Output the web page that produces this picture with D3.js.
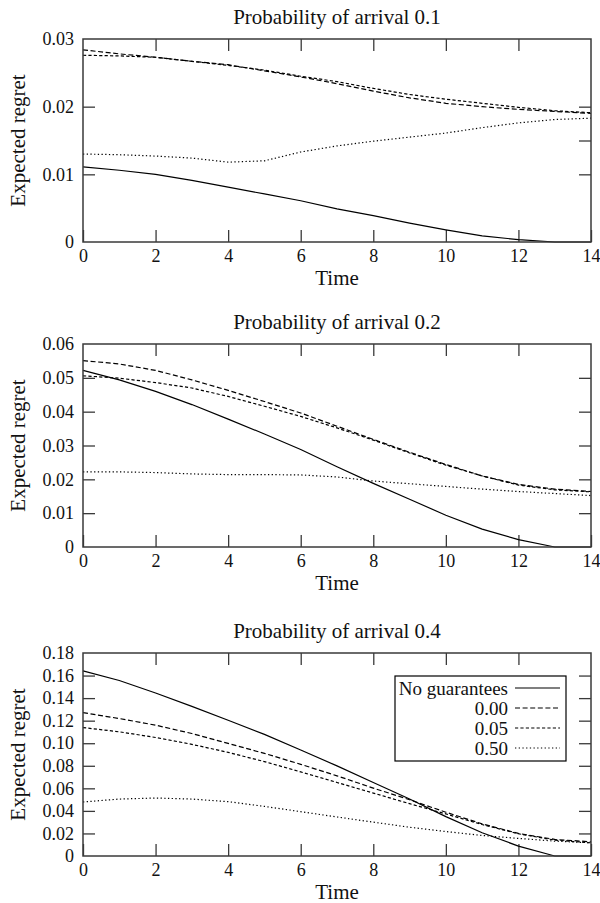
<!DOCTYPE html>
<html>
<head>
<meta charset="utf-8">
<script src="https://cdn.jsdelivr.net/npm/d3@7"></script>
<style>
  html, body { margin: 0; padding: 0; background: #fff; }
</style>
</head>
<body>
<svg id="chart" width="600" height="903"></svg>
<script>
// ---------- data ----------
const times = [0, 1, 2, 3, 4, 5, 6, 7, 8, 9, 10, 11, 12, 13, 14];
const xTicks = [0, 2, 4, 6, 8, 10, 12, 14];
const seriesNames = ["No guarantees", "0.00", "0.05", "0.50"];
const panelTitles = ["Probability of arrival 0.1", "Probability of arrival 0.2", "Probability of arrival 0.4"];

// p = 0.1
const p1None = [0.0111, 0.0106, 0.0100, 0.0091, 0.0081, 0.0071, 0.0061, 0.0049, 0.0039, 0.0028, 0.0018, 0.0009, 0.00035, 0, 0];
const p1G000 = [0.0284, 0.0278, 0.0273, 0.0267, 0.0262, 0.0253, 0.0244, 0.0234, 0.0223, 0.0213, 0.0205, 0.0200, 0.0196, 0.0193, 0.0190];
const p1G005 = [0.0276, 0.0275, 0.0273, 0.0267, 0.0261, 0.0254, 0.0245, 0.0237, 0.0227, 0.0218, 0.0211, 0.0205, 0.0199, 0.0194, 0.0191];
const p1G050 = [0.0130, 0.0129, 0.0127, 0.0124, 0.0118, 0.0120, 0.0133, 0.0142, 0.0149, 0.0155, 0.0161, 0.0169, 0.0176, 0.0181, 0.0183];
// p = 0.2
const p2None = [0.0522, 0.0494, 0.0460, 0.0421, 0.0378, 0.0334, 0.0288, 0.0237, 0.0188, 0.0141, 0.0094, 0.0053, 0.0022, 0, 0];
const p2G000 = [0.0551, 0.0541, 0.0522, 0.0494, 0.0463, 0.0430, 0.0396, 0.0357, 0.0318, 0.0280, 0.0244, 0.0210, 0.0185, 0.0171, 0.0164];
const p2G005 = [0.0506, 0.0499, 0.0486, 0.0470, 0.0445, 0.0416, 0.0386, 0.0352, 0.0316, 0.0278, 0.0242, 0.0210, 0.0183, 0.0169, 0.0163];
const p2G050 = [0.0222, 0.0222, 0.0220, 0.0216, 0.0214, 0.0214, 0.0213, 0.0207, 0.0195, 0.0187, 0.0179, 0.0171, 0.0164, 0.0158, 0.0152];
// p = 0.4
const p3None = [0.1641, 0.1556, 0.1445, 0.1327, 0.1204, 0.1078, 0.0940, 0.0799, 0.0652, 0.0505, 0.0349, 0.0206, 0.0088, 0, 0];
const p3G000 = [0.1271, 0.1219, 0.1160, 0.1086, 0.0998, 0.0910, 0.0813, 0.0711, 0.0602, 0.0499, 0.0388, 0.0285, 0.0200, 0.0147, 0.0126];
const p3G005 = [0.1139, 0.1101, 0.1051, 0.0990, 0.0919, 0.0837, 0.0746, 0.0652, 0.0558, 0.0464, 0.0373, 0.0279, 0.0197, 0.0141, 0.0117];
const p3G050 = [0.0479, 0.0505, 0.0514, 0.0505, 0.0482, 0.0440, 0.0393, 0.0346, 0.0300, 0.0255, 0.0217, 0.0182, 0.0156, 0.0132, 0.0117];

const yMax = [0.03, 0.06, 0.18];
const yTicksLeft = [[0, 0.01, 0.02, 0.03], [0, 0.01, 0.02, 0.03, 0.04, 0.05, 0.06], [0, 0.02, 0.04, 0.06, 0.08, 0.10, 0.12, 0.14, 0.16, 0.18]];
const yTicksRight = [[0.01, 0.015, 0.02], [0.01, 0.02, 0.03, 0.04, 0.05], [0.02, 0.04, 0.06, 0.08, 0.10, 0.12, 0.14, 0.16]];

const panelSeries = [
  [p1None, p1G000, p1G005, p1G050],
  [p2None, p2G000, p2G005, p2G050],
  [p3None, p3G000, p3G005, p3G050]
];

// ---------- styling ----------
const FONT = "Liberation Serif";
const dashes = [null, "5,2.6", "3.2,2.2", "1.3,2.4"];
const plotLeft = 83, plotRight = 591, plotH = 203;
const plotTops = [39, 344, 653];
const tickLen = 12;
const frameColor = "#3a3a3a";

const svg = d3.select("#chart");

const fmt = d => d === 0 ? "0" : d3.format(".2f")(d);

panelSeries.forEach((series, pi) => {
  const top = plotTops[pi];
  const x = d3.scaleLinear().domain([0, 14]).range([plotLeft, plotRight]);
  const y = d3.scaleLinear().domain([0, yMax[pi]]).range([top + plotH, top]);
  const g = svg.append("g");

  // title
  g.append("text")
    .attr("x", (plotLeft + plotRight) / 2)
    .attr("y", top - 15)
    .attr("text-anchor", "middle")
    .attr("font-size", 21)
    .style("font-family", FONT)
    .attr("fill", "#111")
    .text(panelTitles[pi]);

  // axes
  const styleAxis = sel => {
    sel.attr("font-family", FONT);
    sel.select(".domain").remove();
    sel.selectAll(".tick line").attr("stroke", frameColor).attr("stroke-width", 1.3);
    sel.selectAll(".tick text").attr("font-size", 18).attr("fill", "#111")
      .style("font-family", FONT);
  };

  g.append("g")
    .attr("transform", `translate(0,${top + plotH})`)
    .call(d3.axisBottom(x).tickValues(xTicks).tickSize(-tickLen).tickPadding(7).tickFormat(d3.format("d")))
    .call(styleAxis)
    .call(s => s.selectAll(".tick text").attr("dy", "0.71em").attr("y", 7));

  g.append("g")
    .attr("transform", `translate(0,${top})`)
    .call(d3.axisTop(x).tickValues(xTicks.slice(1, -1)).tickSize(-tickLen).tickFormat(""))
    .call(styleAxis);

  g.append("g")
    .attr("transform", `translate(${plotLeft},0)`)
    .call(d3.axisLeft(y).tickValues(yTicksLeft[pi]).tickSize(-tickLen).tickPadding(9).tickFormat(fmt))
    .call(styleAxis)
    .call(s => s.selectAll(".tick").filter(d => d === 0 || d === yMax[pi]).select("line").remove());

  g.append("g")
    .attr("transform", `translate(${plotRight},0)`)
    .call(d3.axisRight(y).tickValues(yTicksRight[pi]).tickSize(-tickLen).tickFormat(""))
    .call(styleAxis);

  // axis labels
  g.append("text")
    .attr("x", (plotLeft + plotRight) / 2)
    .attr("y", top + plotH + 43)
    .attr("text-anchor", "middle")
    .attr("font-size", 21)
    .style("font-family", FONT)
    .attr("fill", "#111")
    .text("Time");

  g.append("text")
    .attr("transform", `translate(25,${top + plotH / 2}) rotate(-90)`)
    .attr("text-anchor", "middle")
    .attr("font-size", 21)
    .style("font-family", FONT)
    .attr("fill", "#111")
    .text("Expected regret");

  // lines
  const line = d3.line().x((d, i) => x(times[i])).y(d => y(d));
  series.forEach((vals, si) => {
    g.append("path")
      .datum(vals)
      .attr("d", line)
      .attr("fill", "none")
      .attr("stroke", "#000")
      .attr("stroke-width", 1.2)
      .attr("stroke-dasharray", dashes[si]);
  });

  // frame
  g.append("rect")
    .attr("x", plotLeft).attr("y", top)
    .attr("width", plotRight - plotLeft).attr("height", plotH)
    .attr("fill", "none").attr("stroke", frameColor).attr("stroke-width", 1.5);

  // legend on last panel
  if (pi === 2) {
    const lg = g.append("g");
    const bx = 395, by = 676, bw = 171, bh = 85;
    lg.append("rect").attr("x", bx).attr("y", by).attr("width", bw).attr("height", bh)
      .attr("fill", "#fff").attr("stroke", "#000").attr("stroke-width", 1.2);
    seriesNames.forEach((name, si) => {
      const ry = by + 12 + si * 20;
      lg.append("text")
        .attr("x", 508).attr("y", ry)
        .attr("dy", "0.35em")
        .attr("text-anchor", "end")
        .attr("font-size", 19)
        .style("font-family", FONT)
        .attr("fill", "#111")
        .text(name);
      lg.append("line")
        .attr("x1", 515).attr("x2", 560)
        .attr("y1", ry).attr("y2", ry)
        .attr("stroke", "#000").attr("stroke-width", 1.2)
        .attr("stroke-dasharray", dashes[si]);
    });
  }
});
</script>
</body>
</html>
